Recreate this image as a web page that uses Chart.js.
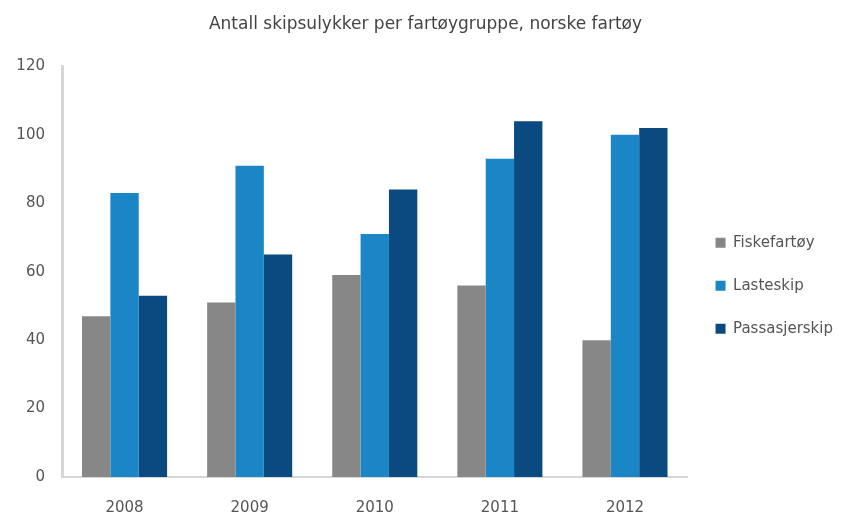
<!DOCTYPE html>
<html>
<head>
<meta charset="utf-8">
<script src="https://cdn.jsdelivr.net/npm/chart.js@4/dist/chart.umd.min.js"></script>
<style>
html,body{margin:0;padding:0;background:#fff;}
#wrap{width:851px;height:517px;position:relative;}
</style>
</head>
<body>
<div id="wrap"><canvas id="c" width="851" height="517"></canvas></div>
<script>
const categories = ["2008", "2009", "2010", "2011", "2012"];
const fiskefartoy = [47, 51, 59, 56, 40];
const lasteskip = [83, 91, 71, 93, 100];
const passasjerskip = [53, 65, 84, 104, 102];
const seriesNames = ["Fiskefartøy", "Lasteskip", "Passasjerskip"];
const titleText = "Antall skipsulykker per fartøygruppe, norske fartøy";

const colors = ["#878787", "#1a86c6", "#0b4a80"];
const fontFam = 'DejaVu Sans';

new Chart(document.getElementById('c'), {
  type: 'bar',
  data: {
    labels: categories,
    datasets: [
      { label: seriesNames[0], data: fiskefartoy, backgroundColor: colors[0] },
      { label: seriesNames[1], data: lasteskip, backgroundColor: colors[1] },
      { label: seriesNames[2], data: passasjerskip, backgroundColor: colors[2] }
    ]
  },
  options: {
    responsive: false,
    animation: false,
    devicePixelRatio: 1,
    layout: { padding: { left: 8, right: 8, top: 0, bottom: 0 } },
    datasets: { bar: { barPercentage: 1.0, categoryPercentage: 0.68 } },
    plugins: {
      title: {
        display: true,
        text: titleText,
        color: '#444',
        font: { family: fontFam, size: 17, weight: 'normal' },
        padding: { top: 14, bottom: 32 }
      },
      legend: {
        position: 'right',
        maxWidth: 165,
        title: { display: true, text: ' ', padding: 20, font: { size: 12 } },
        labels: {
          color: '#555',
          font: { family: fontFam, size: 15 },
          boxWidth: 10,
          boxHeight: 10,
          padding: 28
        }
      },
      tooltip: { enabled: false }
    },
    scales: {
      x: {
        afterFit: (scale) => { scale.height = 40; },
        grid: { display: false, drawTicks: false },
        border: { display: true, color: '#d6d6d6', width: 2 },
        ticks: { color: '#555', font: { family: fontFam, size: 15 }, padding: 22 }
      },
      y: {
        min: 0, max: 120,
        afterFit: (scale) => { scale.width = 54; },
        grid: { display: false, drawTicks: false },
        border: { display: true, color: '#d6d6d6', width: 3 },
        ticks: { stepSize: 20, color: '#555', font: { family: fontFam, size: 15 }, padding: 17 }
      }
    }
  }
});
</script>
</body>
</html>
